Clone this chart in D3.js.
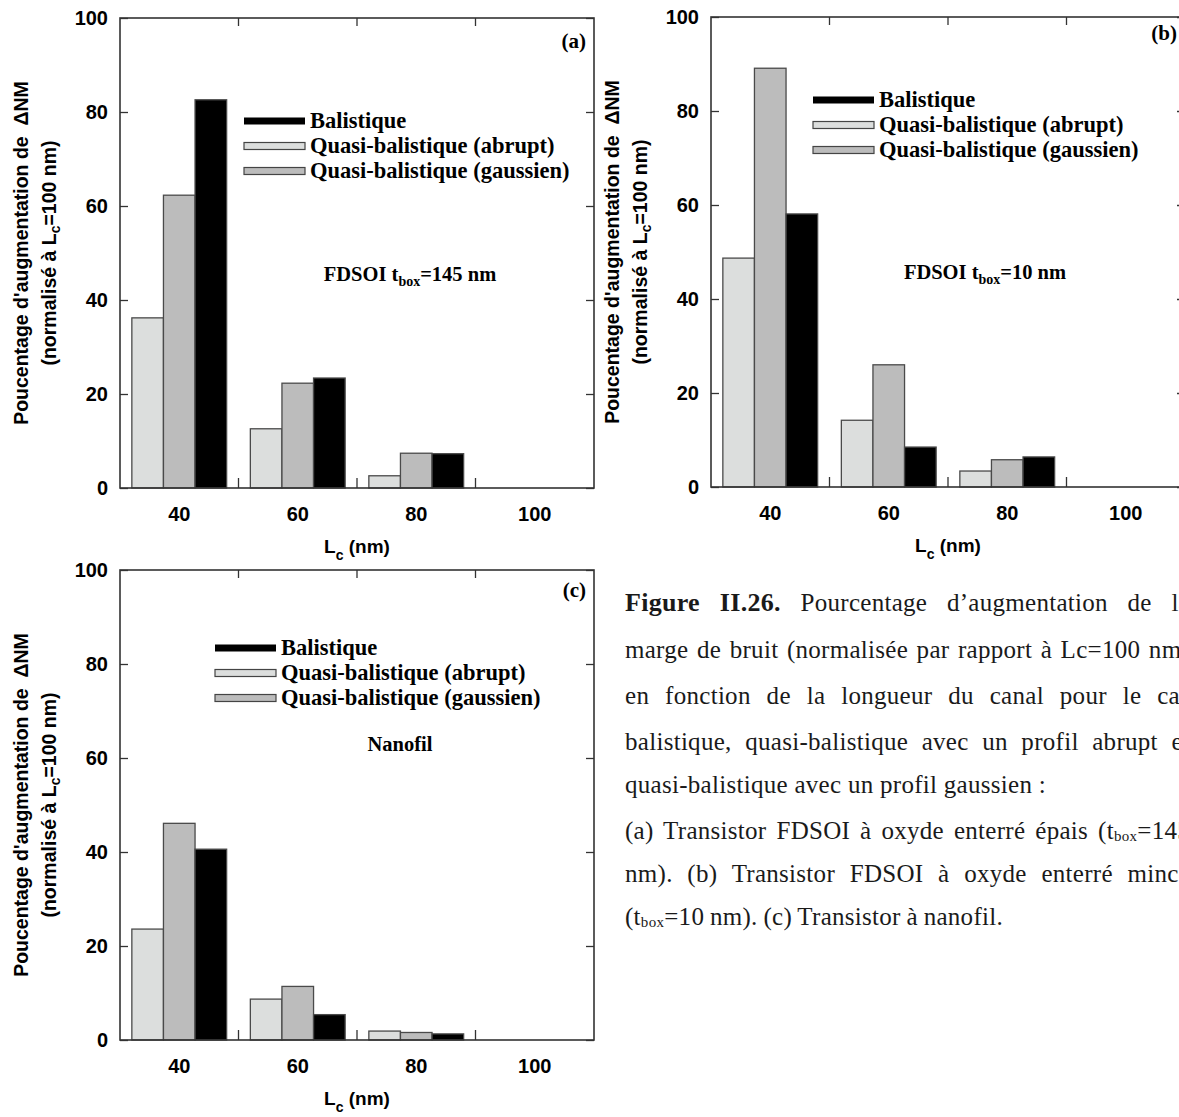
<!DOCTYPE html>
<html><head><meta charset="utf-8">
<script src="https://cdn.jsdelivr.net/npm/d3@7"></script>
<style>body{margin:0;background:#fff;overflow:hidden} svg{display:block}</style>
</head><body>
<svg id="chart" width="1179" height="1117"></svg>
<script>
// ---------- DATA ----------
const categories = ["40", "60", "80", "100"];
const seriesKeys = ["abrupt", "gaussien", "balistique"];
const legendKeys = ["balistique", "abrupt", "gaussien"];
const legendLabels = ["Balistique", "Quasi-balistique (abrupt)", "Quasi-balistique (gaussien)"];
const yTicks = [0, 20, 40, 60, 80, 100];

const aAbrupt     = [36.2, 12.6, 2.6, 0];
const aGaussien   = [62.3, 22.3, 7.4, 0];
const aBalistique = [82.6, 23.4, 7.3, 0];

const bAbrupt     = [48.7, 14.2, 3.4, 0];
const bGaussien   = [89.1, 26.0, 5.8, 0];
const bBalistique = [58.1, 8.5, 6.4, 0];

const cAbrupt     = [23.6, 8.7, 1.9, 0];
const cGaussien   = [46.1, 11.4, 1.6, 0];
const cBalistique = [40.6, 5.4, 1.3, 0];

// ---------- STYLE ----------
const svg = d3.select("#chart");
const SANS = "'Liberation Sans', Arial, sans-serif";
const SERIF = "'Liberation Serif', 'Times New Roman', serif";
const colors = {abrupt: "#dcdedd", gaussien: "#bcbcbc", balistique: "#000000"};
const FRAME = "#333";

function drawPanel(o) {
  const W = 474, H = 470;
  const g = svg.append("g").attr("transform", `translate(${o.left},${o.top})`);
  const x = d3.scaleBand().domain(categories).range([0, W]);
  const x1 = d3.scaleBand().domain(seriesKeys).range([x.bandwidth() * 0.1, x.bandwidth() * 0.9]);
  const y = d3.scaleLinear().domain([0, 100]).range([H, 0]);

  const rows = categories.map((c, i) => ({c, vals: seriesKeys.map(k => ({k, v: o.data[k][i]}))}));
  g.selectAll("g.grp").data(rows).join("g").attr("class", "grp")
    .attr("transform", d => `translate(${x(d.c)},0)`)
    .selectAll("rect").data(d => d.vals.filter(e => e.v > 0)).join("rect")
    .attr("x", d => x1(d.k)).attr("width", x1.bandwidth())
    .attr("y", d => y(d.v)).attr("height", d => H - y(d.v))
    .attr("fill", d => colors[d.k]).attr("stroke", "#4a4a4a").attr("stroke-width", 1.3);

  // left axis
  const yl = g.append("g").call(d3.axisLeft(y).tickValues(yTicks).tickSizeInner(-8).tickSizeOuter(0).tickPadding(12));
  yl.select(".domain").remove();
  yl.selectAll("line").attr("stroke", FRAME).attr("stroke-width", 1.3);
  yl.selectAll("text").attr("font-family", SANS).attr("font-weight", "bold").attr("font-size", 20).attr("fill", "#000");
  // right axis
  const yr = g.append("g").attr("transform", `translate(${W},0)`)
    .call(d3.axisRight(y).tickValues(yTicks).tickSizeInner(-8).tickSizeOuter(0).tickFormat(""));
  yr.select(".domain").remove();
  yr.selectAll("line").attr("stroke", FRAME).attr("stroke-width", 1.3);
  // bottom labels
  const xb = g.append("g").attr("transform", `translate(0,${H})`)
    .call(d3.axisBottom(x).tickSize(0).tickPadding(19));
  xb.select(".domain").remove();
  xb.selectAll("text").attr("font-family", SANS).attr("font-weight", "bold").attr("font-size", 20).attr("fill", "#000");
  // boundary ticks
  const bounds = categories.slice(1).map(c => x(c));
  g.selectAll("line.bt").data(bounds).join("line").attr("class", "bt")
    .attr("x1", d => d).attr("x2", d => d).attr("y1", H).attr("y2", H - 10)
    .attr("stroke", FRAME).attr("stroke-width", 1.3);
  g.selectAll("line.tt").data(bounds).join("line").attr("class", "tt")
    .attr("x1", d => d).attr("x2", d => d).attr("y1", 0).attr("y2", 8)
    .attr("stroke", FRAME).attr("stroke-width", 1.3);
  // frame
  g.append("rect").attr("width", W).attr("height", H).attr("fill", "none")
    .attr("stroke", FRAME).attr("stroke-width", 1.6);

  // x label
  const xl = g.append("text").attr("x", W / 2).attr("y", H + 65).attr("text-anchor", "middle")
    .attr("font-family", SANS).attr("font-weight", "bold").attr("font-size", 19);
  xl.append("tspan").text("L");
  xl.append("tspan").attr("font-size", 14).attr("dy", 7).text("c");
  xl.append("tspan").attr("dy", -7).text(" (nm)");

  // y label
  const yg = g.append("g").attr("transform", `translate(0,${H / 2}) rotate(-90)`);
  yg.append("text").attr("x", 0).attr("y", -99).attr("text-anchor", "middle").attr("dominant-baseline", "central")
    .attr("font-family", SANS).attr("font-weight", "bold").attr("font-size", 19.5)
    .text("Poucentage d'augmentation de\u00a0 \u0394NM");
  const yt2 = yg.append("text").attr("x", 0).attr("y", -71).attr("text-anchor", "middle").attr("dominant-baseline", "central")
    .attr("font-family", SANS).attr("font-weight", "bold").attr("font-size", 19.5);
  yt2.append("tspan").text("(normalisé à L");
  yt2.append("tspan").attr("font-size", 14).attr("dy", 6).text("c");
  yt2.append("tspan").attr("dy", -6).text("=100 nm)");

  // panel tag
  g.append("text").attr("x", W - 8).attr("y", o.tagY).attr("text-anchor", "end")
    .attr("font-family", SERIF).attr("font-weight", "bold").attr("font-size", 21).text(o.tag);

  // legend
  const lg = g.append("g").attr("transform", `translate(${o.legX},${o.legY})`);
  legendKeys.forEach((k, i) => {
    const row = lg.append("g").attr("transform", `translate(0,${i * 25})`);
    row.append("rect").attr("x", 0).attr("y", -3.5).attr("width", 61).attr("height", 7)
      .attr("fill", colors[k]).attr("stroke", k === "balistique" ? "none" : "#444").attr("stroke-width", 1.2);
    row.append("text").attr("x", 66).attr("y", 7).attr("font-family", SERIF).attr("font-weight", "bold")
      .attr("font-size", 22.5).text(legendLabels[i]);
  });

  // annotation
  const an = g.append("text").attr("x", o.annX).attr("y", o.annY).attr("text-anchor", "middle")
    .attr("font-family", SERIF).attr("font-weight", "bold").attr("font-size", 20.5);
  o.ann.forEach(p => {
    if (p.sub) { an.append("tspan").attr("font-size", 14).attr("dy", 5).text(p.t); }
    else { an.append("tspan").attr("dy", p.after ? -5 : 0).text(p.t); }
  });
}

drawPanel({left: 120, top: 18, tag: "(a)", tagY: 30,
  data: {abrupt: aAbrupt, gaussien: aGaussien, balistique: aBalistique},
  legX: 124, legY: 103, annX: 290, annY: 263,
  ann: [{t: "FDSOI t"}, {t: "box", sub: true}, {t: "=145 nm", after: true}]});

drawPanel({left: 711, top: 17, tag: "(b)", tagY: 23,
  data: {abrupt: bAbrupt, gaussien: bGaussien, balistique: bBalistique},
  legX: 102, legY: 83, annX: 274, annY: 262,
  ann: [{t: "FDSOI t"}, {t: "box", sub: true}, {t: "=10 nm", after: true}]});

drawPanel({left: 120, top: 570, tag: "(c)", tagY: 27,
  data: {abrupt: cAbrupt, gaussien: cGaussien, balistique: cBalistique},
  legX: 95, legY: 78, annX: 280, annY: 181,
  ann: [{t: "Nanofil"}]});

// ---------- CAPTION ----------
const capX = 625, capRight = 1190;
const capLines = [
  {y: 611, justify: true, parts: [{t: "Figure II.26.", bold: true}, {t: " Pourcentage d\u2019augmentation de la"}]},
  {y: 658, justify: true, parts: [{t: "marge de bruit (normalisée par rapport à Lc=100 nm)"}]},
  {y: 704, justify: true, parts: [{t: "en fonction de la longueur du canal pour le cas"}]},
  {y: 750, justify: true, parts: [{t: "balistique, quasi-balistique avec un profil abrupt et"}]},
  {y: 793, width: 421, parts: [{t: "quasi-balistique avec un profil gaussien :"}]},
  {y: 839, justify: true, parts: [{t: "(a) Transistor FDSOI à oxyde enterré épais (t"}, {t: "box", sub: true}, {t: "=145"}]},
  {y: 882, justify: true, parts: [{t: "nm). (b) Transistor FDSOI à oxyde enterré mince"}]},
  {y: 925, width: 378, parts: [{t: "(t"}, {t: "box", sub: true}, {t: "=10 nm). (c) Transistor à nanofil."}]}
];
const capTexts = capLines.map(L => {
  const t = svg.append("text").attr("x", capX).attr("y", L.y)
    .attr("font-family", SERIF).attr("font-size", 25).attr("fill", "#1a1a1a");
  L.parts.forEach((p, i) => {
    const s = t.append("tspan").text(p.t);
    if (p.bold) s.attr("font-weight", "bold").attr("font-size", 26);
    if (p.sub) s.attr("font-size", 15).attr("dy", 2);
    else if (i > 0 && L.parts[i - 1].sub) s.attr("dy", -2);
  });
  return t;
});
// small letter spacing so the free line has the reference width
const refLine = capTexts[4];
const refChars = capLines[4].parts.map(p => p.t).join("").length;
const ls = Math.max(0, (421 - refLine.node().getComputedTextLength()) / refChars);
capTexts.forEach(t => t.style("letter-spacing", ls + "px"));
capLines.forEach((L, i) => {
  const t = capTexts[i];
  const full = L.parts.map(p => p.t).join("");
  const nat = t.node().getComputedTextLength();
  const n = (full.match(/ /g) || []).length;
  const target = L.justify ? (capRight - capX) : L.width;
  t.style("word-spacing", ((target - nat) / n) + "px");
});
</script>
</body></html>
